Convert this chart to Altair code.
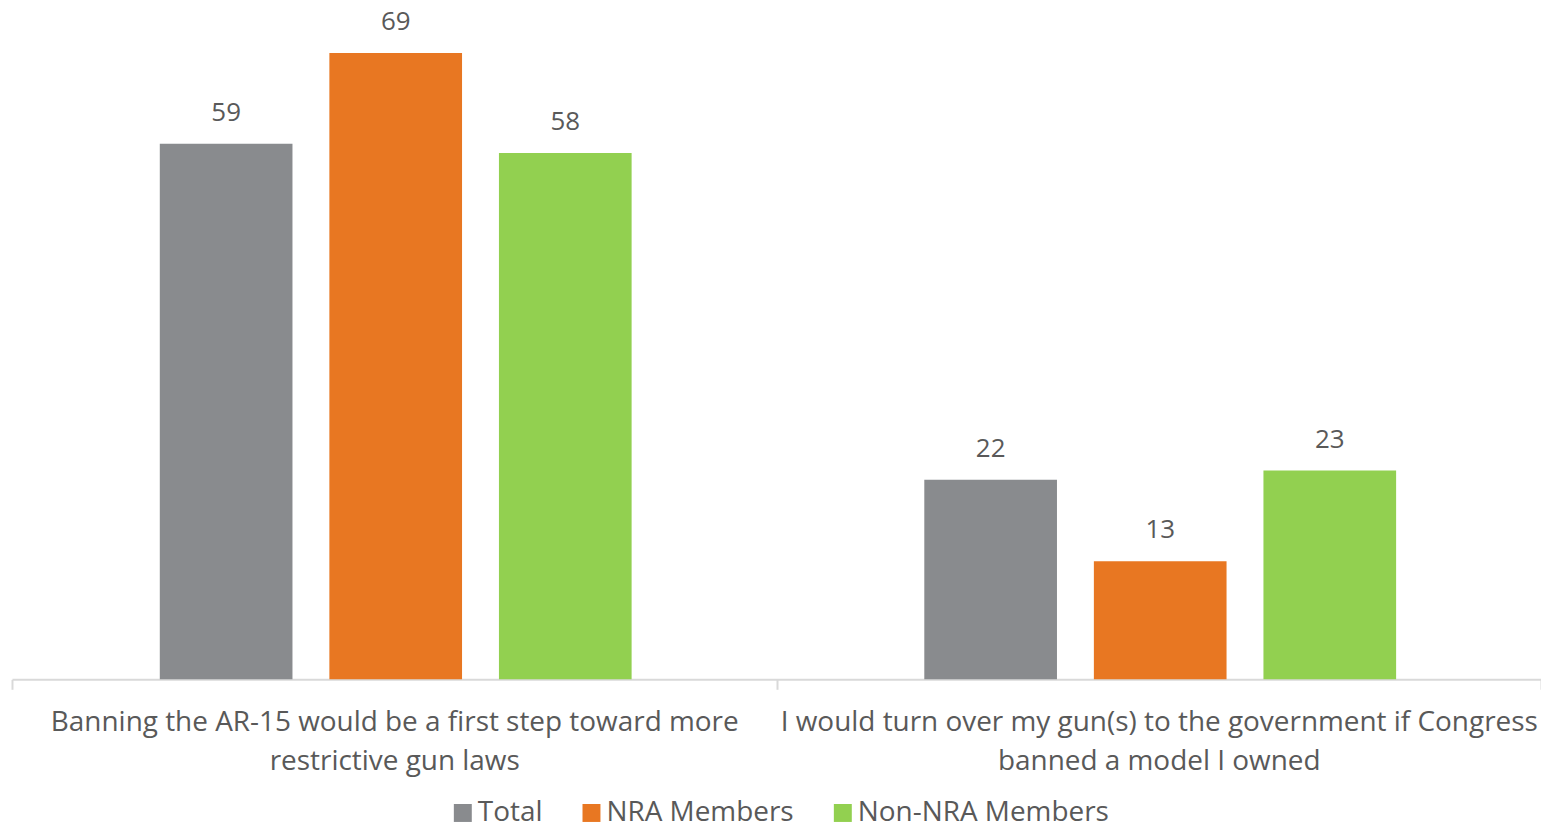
import altair as alt
import pandas as pd

categories = [
    "Banning the AR-15 would be a first step toward more|restrictive gun laws",
    "I would turn over my gun(s) to the government if Congress|banned a model I owned",
]
series = ["Total", "NRA Members", "Non-NRA Members"]
total_vals = [59, 22]
nra_vals = [69, 13]
non_nra_vals = [58, 23]
colors = ["#898B8E", "#E87722", "#92D050"]

rows = []
for i, c in enumerate(categories):
    for s, vals in zip(series, [total_vals, nra_vals, non_nra_vals]):
        rows.append({"category": c, "series": s, "value": vals[i]})
df = pd.DataFrame(rows)

FONT = "Open Sans"
TXT = "#595959"

base = alt.Chart(df).encode(
    x=alt.X(
        "category:N",
        sort=categories,
        scale=alt.Scale(paddingInner=0, paddingOuter=0),
        axis=alt.Axis(
            title=None,
            labelAngle=0,
            labelExpr="split(datum.label, '|')",
            labelFont=FONT,
            labelFontSize=28,
            labelColor=TXT,
            labelLineHeight=39,
            labelPadding=19,
            labelLimit=900,
            domainColor="#D9D9D9",
            domainWidth=2,
            tickColor="#D9D9D9",
            tickWidth=2,
            tickSize=10,
            tickBand="extent",
        ),
    ),
    xOffset=alt.XOffset(
        "series:N",
        sort=series,
        scale=alt.Scale(paddingInner=0.2176, paddingOuter=0.863, align=0.505),
    ),
    y=alt.Y("value:Q", scale=alt.Scale(domain=[0, 73.85], nice=False), axis=None),
)

bars = base.mark_bar().encode(
    color=alt.Color(
        "series:N",
        sort=series,
        scale=alt.Scale(domain=series, range=colors),
        legend=alt.Legend(
            title=None,
            orient="none",
            direction="horizontal",
            legendX=438,
            legendY=792,
            symbolType="square",
            symbolSize=324,
            symbolStrokeWidth=0,
            labelFont=FONT,
            labelFontSize=28,
            labelColor=TXT,
            labelOffset=1,
            labelLimit=400,
            columnPadding=35,
        ),
    )
)

labels = base.mark_text(
    baseline="alphabetic", dy=-23, font=FONT, fontSize=26, color=TXT
).encode(text=alt.Text("value:Q"))

chart = (
    alt.layer(bars, labels)
    .properties(
        width=1533,
        height=672,
        autosize=alt.AutoSizeParams(type="none"),
        padding={"left": 4, "top": 0, "right": 0, "bottom": 148},
    )
    .configure_view(stroke=None)
)

chart.save("out.html", embed_options={"renderer": "svg", "actions": False})
